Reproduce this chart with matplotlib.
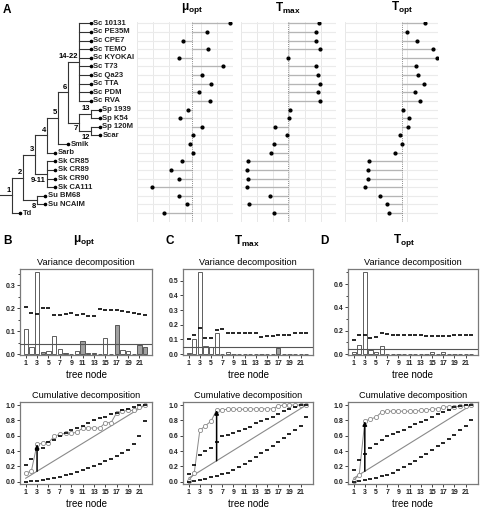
import matplotlib
matplotlib.use("Agg")
import matplotlib.pyplot as plt
import numpy as np

plt.rcParams["font.family"] = ["Liberation Sans", "DejaVu Sans"]

W, H = 480, 508

# ---- panel A data -------------------------------------------------------
taxa = [
    "Sc 10131", "Sc PE35M", "Sc CPE7", "Sc TEMO", "Sc KYOKAI", "Sc T73",
    "Sc Qa23", "Sc TTA", "Sc PDM", "Sc RVA", "Sp 1939", "Sp K54",
    "Sp 120M", "Scar", "Smik", "Sarb", "Sk CR85", "Sk CR89", "Sk CR90",
    "Sk CA111", "Su BM68", "Su NCAIM", "Td",
]
tip_depth = [90.7] * 10 + [100.0] * 4 + [68.3, 55.0, 55.0, 55.0, 55.0, 55.0,
                                          45.0, 45.0, 20.0]
# internal nodes: label, depth, children (tip index or node label)
tree_nodes = [
    ("14-22", 79.0, [0, 1, 2, 3, 4, 5, 6, 7, 8, 9]),
    ("13", 90.7, [10, 11]),
    ("12", 90.7, [12, 13]),
    ("7", 79.0, ["13", "12"]),
    ("6", 68.3, ["14-22", "7"]),
    ("5", 58.3, ["6", 14]),
    ("4", 46.7, ["5", 15]),
    ("9-11", 46.7, [16, 17, 18, 19]),
    ("3", 35.0, ["4", "9-11"]),
    ("8", 36.7, [20, 21]),
    ("2", 22.7, ["3", "8"]),
    ("1", 11.7, ["2", 22]),
]
labels_below = {"7", "8", "9-11", "12"}

mu_opt = [0.441, 0.370, 0.295, 0.373, 0.282, 0.420, 0.354, 0.380, 0.343,
          0.377, 0.310, 0.285, 0.353, 0.326, 0.315, 0.325, 0.290, 0.256,
          0.282, 0.198, 0.280, 0.305, 0.234]
t_max = [45.79, 45.38, 45.38, 45.88, 41.91, 45.38, 45.66, 45.91, 45.63,
         45.88, 42.16, 42.04, 40.29, 41.71, 40.16, 39.79, 36.88, 36.75,
         36.91, 36.79, 39.66, 37.04, 40.16]
t_opt = [32.90, 30.00, 31.66, 34.15, 34.79, 31.45, 31.77, 32.79, 31.34,
         32.10, 29.35, 30.27, 30.21, 28.82, 29.24, 28.11, 23.87, 23.66,
         23.76, 23.18, 25.69, 26.77, 27.15]

# ---- panels B-D data ----------------------------------------------------
tree_node_ids = np.arange(1, 23)

var_mu = [0.11, 0.03, 0.355, 0.008, 0.015, 0.078, 0.022, 0.005, 0.0, 0.015,
          0.055, 0.004, 0.004, 0.0, 0.068, 0.0, 0.127, 0.018, 0.012, 0.0,
          0.04, 0.03]
neg_mu = [0, 0, 0, 1, 0, 0, 0, 1, 0, 0, 1, 1, 1, 0, 0, 0, 1, 0, 0, 0, 1, 1]
null_mu = [0.205, 0.18, 0.175, 0.2, 0.2, 0.172, 0.172, 0.176, 0.178, 0.172,
           0.174, 0.166, 0.166, 0.197, 0.19, 0.19, 0.19, 0.186, 0.182,
           0.18, 0.175, 0.168]
cum_mu = [0.11, 0.14, 0.49, 0.50, 0.51, 0.59, 0.62, 0.63, 0.63, 0.645,
          0.70, 0.70, 0.70, 0.70, 0.77, 0.77, 0.90, 0.92, 0.93, 0.93, 0.97,
          1.0]
upper_mu = [0.22, 0.30, 0.42, 0.44, 0.52, 0.55, 0.60, 0.63, 0.67, 0.70, 0.73,
            0.77, 0.80, 0.83, 0.85, 0.88, 0.90, 0.93, 0.95, 0.97, 1.0, 1.0]
lower_mu = [0.0, 0.005, 0.01, 0.02, 0.035, 0.05, 0.065, 0.085, 0.105, 0.13,
            0.155, 0.18, 0.205, 0.235, 0.27, 0.30, 0.34, 0.38, 0.42, 0.49,
            0.60, 0.79]

var_tmax = [0.01, 0.1, 0.56, 0.055, 0.05, 0.145, 0.0, 0.012, 0.0, 0.0, 0.0,
            0.0, 0.004, 0.0, 0.0, 0.0, 0.04, 0.0, 0.0, 0.0, 0.0, 0.0]
neg_tmax = [0, 0, 0, 0, 0, 0, 0, 0, 0, 0, 0, 0, 1, 0, 0, 0, 1, 0, 0, 0, 0, 0]
null_tmax = [0.1, 0.13, 0.18, 0.11, 0.11, 0.165, 0.172, 0.145, 0.145, 0.143,
             0.145, 0.145, 0.145, 0.12, 0.125, 0.127, 0.128, 0.13, 0.13,
             0.145, 0.145, 0.145]
cum_tmax = [0.01, 0.11, 0.67, 0.73, 0.79, 0.935, 0.94, 0.945, 0.945, 0.945,
            0.945, 0.945, 0.95, 0.95, 0.95, 0.95, 0.99, 1.0, 1.0, 1.0, 1.0,
            1.0]
upper_tmax = [0.1, 0.22, 0.35, 0.40, 0.44, 0.52, 0.59, 0.61, 0.64, 0.66,
              0.69, 0.72, 0.76, 0.79, 0.82, 0.84, 0.88, 0.92, 0.95, 0.98,
              1.0, 1.0]
lower_tmax = [0.0, 0.01, 0.02, 0.04, 0.06, 0.08, 0.1, 0.12, 0.15, 0.19, 0.23,
              0.27, 0.32, 0.37, 0.42, 0.47, 0.52, 0.57, 0.62, 0.67, 0.73,
              0.85]

var_topt = [0.015, 0.075, 0.7, 0.035, 0.015, 0.07, 0.003, 0.0, 0.0, 0.0, 0.0,
            0.003, 0.0, 0.0, 0.015, 0.005, 0.018, 0.0, 0.0, 0.0, 0.003, 0.0]
neg_topt = [0] * 22
null_topt = [0.125, 0.165, 0.165, 0.14, 0.145, 0.178, 0.172, 0.162, 0.162,
             0.162, 0.162, 0.16, 0.16, 0.155, 0.152, 0.155, 0.155, 0.158,
             0.16, 0.162, 0.165, 0.16]
cum_topt = [0.015, 0.09, 0.79, 0.82, 0.84, 0.91, 0.92, 0.92, 0.92, 0.92,
            0.92, 0.92, 0.93, 0.93, 0.95, 0.95, 0.97, 0.98, 0.98, 0.985,
            0.99, 1.0]
upper_topt = [0.15, 0.28, 0.36, 0.44, 0.49, 0.54, 0.59, 0.62, 0.65, 0.68,
              0.72, 0.75, 0.78, 0.81, 0.84, 0.88, 0.91, 0.94, 0.97, 0.99,
              1.0, 1.0]
lower_topt = [0.0, 0.01, 0.02, 0.035, 0.05, 0.07, 0.09, 0.12, 0.15, 0.19,
              0.23, 0.27, 0.32, 0.36, 0.41, 0.46, 0.51, 0.56, 0.61, 0.67,
              0.73, 0.80]


def px_axes(fig, x0, y0, x1, y1):
    return fig.add_axes([x0 / W, 1 - y1 / H, (x1 - x0) / W, (y1 - y0) / H])


def draw_tree(ax):
    rows = np.arange(len(taxa))
    node_y, node_x = {}, {}

    def child_pos(c):
        if isinstance(c, str):
            return node_x[c], node_y[c]
        return tip_depth[c], rows[c]

    for label, depth, children in tree_nodes:
        pos = [child_pos(c) for c in children]
        ys = [p[1] for p in pos]
        node_x[label] = depth
        node_y[label] = float(np.mean([min(ys), max(ys)]))
        ax.plot([depth, depth], [min(ys), max(ys)], color="#333333", lw=0.8)
        for cx, cy in pos:
            ax.plot([depth, cx], [cy, cy], color="#333333", lw=0.8)
        if label in labels_below:
            ax.text(depth - 1, node_y[label] + 0.3, label, ha="right",
                    va="top", fontsize=5.5, fontweight="bold")
        else:
            ax.text(depth - 1, node_y[label] - 0.2, label, ha="right",
                    va="bottom", fontsize=5.5, fontweight="bold")
    ax.plot([0, node_x["1"]], [node_y["1"]] * 2, color="#333333", lw=0.8)
    ax.plot(tip_depth, rows, "o", color="black", ms=1.6)
    for x, y, name in zip(tip_depth, rows, taxa):
        ax.text(x + 2.5, y, name, ha="left", va="center", fontsize=5.5,
                fontweight="bold", color="#222222")
    ax.set_xlim(0, 137)
    ax.set_ylim(23.0, -0.1)
    ax.axis("off")


def draw_dots(ax, values, lo, hi, step, title):
    rows = np.arange(len(values))
    mean = float(np.mean(values))
    for g in np.arange(lo, hi + 1e-9, step):
        ax.axvline(g, color="#e4e4e4", lw=0.6, zorder=0)
    ax.hlines(rows, lo, hi, color="#ebebeb", lw=0.8, zorder=0)
    ax.hlines(rows, mean, values, color="#b5b5b5", lw=0.9, zorder=1)
    ax.axvline(mean, color="#8a8a8a", lw=0.7, ls=(0, (1, 1.2)), zorder=2)
    ax.plot(values, rows, "o", color="black", ms=2.0, zorder=3)
    ax.set_xlim(lo, hi)
    ax.set_ylim(23.0, -0.1)
    for s in ax.spines.values():
        s.set_visible(False)
    ax.set_xticks([])
    ax.set_yticks([])
    ax.text(mean, -0.9, title, ha="center", va="bottom", fontsize=8.5,
            fontweight="bold")


def style_box(ax, yticks, ymax, minor=None):
    ax.set_xlim(0.0, 23.2)
    ax.set_ylim(-0.01 * ymax, ymax)
    ax.set_xticks(np.arange(1, 23, 2))
    ax.set_yticks(yticks)
    ax.set_yticklabels([f"{t:.1f}" for t in yticks])
    if minor is not None:
        ax.set_yticks(minor, minor=True)
    ax.tick_params(which="both", labelsize=5, length=2, width=0.6, pad=1.5,
                   colors="#222222")
    ax.tick_params(which="minor", length=1.5)
    for lab in ax.get_xticklabels() + ax.get_yticklabels():
        lab.set_fontweight("bold")
    for s in ax.spines.values():
        s.set_color("#7a7a7a")
        s.set_linewidth(0.9)
    ax.set_xlabel("tree node", fontsize=7, labelpad=2)


def draw_variance(ax, var, neg, null, yticks, ymax, minor=None):
    colors = ["#a0a0a0" if n else "white" for n in neg]
    ax.bar(tree_node_ids, var, width=0.75, color=colors, edgecolor="#444444",
           linewidth=0.6, zorder=2)
    ax.axhline(1 / len(tree_node_ids), color="#555555", lw=0.8, zorder=3)
    ax.plot(tree_node_ids, null, "_", color="black", ms=3.2, mew=1.2, zorder=4)
    style_box(ax, yticks, ymax, minor)
    ax.set_title("Variance decomposition", fontsize=6.6, pad=3)


def draw_cumulative(ax, cum, upper, lower, arrow_node):
    expected = tree_node_ids / len(tree_node_ids)
    ax.plot(tree_node_ids, expected, color="#8a8a8a", lw=0.8, zorder=1)
    ax.plot(tree_node_ids, cum, "-o", color="#8a8a8a", lw=0.7, ms=3.0,
            mfc="white", mew=0.6, zorder=3)
    ax.plot(tree_node_ids, upper, "_", color="black", ms=3.2, mew=1.2, zorder=4)
    ax.plot(tree_node_ids, lower, "_", color="black", ms=3.2, mew=1.2, zorder=4)
    i = arrow_node - 1
    ax.annotate("", xy=(arrow_node, cum[i]), xytext=(arrow_node, expected[i]),
                arrowprops=dict(arrowstyle="-|>", color="black", lw=1.1,
                                mutation_scale=6, shrinkA=0, shrinkB=0),
                zorder=5)
    style_box(ax, np.arange(0, 1.01, 0.2), 1.04)
    ax.set_ylim(-0.03, 1.04)
    ax.set_title("Cumulative decomposition", fontsize=6.6, pad=3)


fig = plt.figure(figsize=(W / 100, H / 100), dpi=100)

# panel A
ax_tree = px_axes(fig, 0, 22.5, 137, 221.7)
draw_tree(ax_tree)
draw_dots(px_axes(fig, 137, 22.5, 233, 221.7), mu_opt, 0.15, 0.45, 0.05,
          "μ$_{\\mathregular{opt}}$")
draw_dots(px_axes(fig, 241, 22.5, 335.7, 221.7), t_max, 36, 47.84, 2,
          "T$_{\\mathregular{max}}$")
draw_dots(px_axes(fig, 345, 22.5, 438.3, 221.7), t_opt, 20, 35.05, 5,
          "T$_{\\mathregular{opt}}$")

# panels B-D
draw_variance(px_axes(fig, 20, 269, 152, 355), var_mu, neg_mu, null_mu,
              [0.0, 0.1, 0.2, 0.3], 0.37, [0.05, 0.15, 0.25, 0.35])
draw_variance(px_axes(fig, 183, 269, 313, 355), var_tmax, neg_tmax,
              null_tmax, [0.0, 0.1, 0.2, 0.3, 0.4, 0.5], 0.58)
draw_variance(px_axes(fig, 348, 269, 478, 355), var_topt, neg_topt,
              null_topt, [0.0, 0.2, 0.4, 0.6], 0.73, [0.1, 0.3, 0.5, 0.7])
draw_cumulative(px_axes(fig, 20, 402, 152, 484), cum_mu, upper_mu, lower_mu, 3)
draw_cumulative(px_axes(fig, 183, 402, 313, 484), cum_tmax, upper_tmax,
                lower_tmax, 6)
draw_cumulative(px_axes(fig, 348, 402, 478, 484), cum_topt, upper_topt,
                lower_topt, 3)

for letter, x, y in [("A", 3, 10), ("B", 3, 241), ("C", 166, 241),
                     ("D", 320, 241)]:
    fig.text(x / W, 1 - y / H, letter, fontsize=8.5, fontweight="bold",
             va="center", ha="left")
for title, x in [("μ$_{\\mathregular{opt}}$", 84), ("T$_{\\mathregular{max}}$", 247),
                 ("T$_{\\mathregular{opt}}$", 404)]:
    fig.text(x / W, 1 - 241 / H, title, fontsize=8.5, fontweight="bold",
             va="center", ha="center")

fig.savefig("out.png", dpi=100, facecolor="white")
